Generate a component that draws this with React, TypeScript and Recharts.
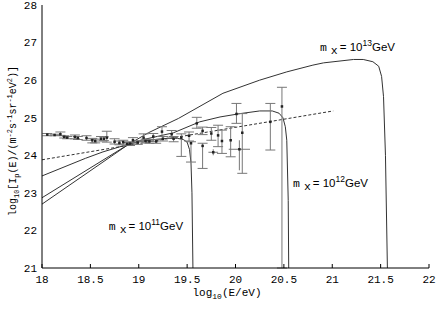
import React from 'react';
import { ComposedChart, Line, Scatter, XAxis, YAxis, ErrorBar, ReferenceDot } from 'recharts';

const MONO = "'Liberation Mono', 'DejaVu Sans Mono', monospace";
const SANS = "'Liberation Sans', Arial, sans-serif";

const xTicks = [18, 18.5, 19, 19.5, 20, 20.5, 21, 21.5, 22];
const yTicks = [21, 22, 23, 24, 25, 26, 27, 28];

// model curves (log10 E, log10 flux)
const curve11: [number, number][] = [
  [18, 23.45], [18.45, 23.92], [18.63, 24.09], [18.9, 24.3], [19.05, 24.38], [19.2, 24.43],
  [19.3, 24.45], [19.4, 24.45], [19.46, 24.42], [19.5, 24.35], [19.525, 24.15], [19.54, 23.8],
  [19.55, 23.0], [19.56, 21],
];
const curve12: [number, number][] = [
  [18, 22.87], [18.9, 24.3], [19.05, 24.42], [19.36, 24.6], [19.63, 24.89], [19.84, 25.02],
  [20.05, 25.11], [20.25, 25.18], [20.38, 25.18], [20.45, 25.12], [20.49, 25.0], [20.515, 24.76],
  [20.53, 24.4], [20.545, 22.8], [20.55, 21],
];
const curve13: [number, number][] = [
  [18, 22.7], [18.9, 24.3], [19.1, 24.6], [19.41, 24.98], [19.87, 25.65], [20.25, 26.0],
  [20.53, 26.22], [20.8, 26.4], [20.91, 26.46], [21.22, 26.55], [21.32, 26.55], [21.42, 26.49],
  [21.48, 26.37], [21.51, 26.1], [21.53, 25.56], [21.55, 24.0], [21.57, 21],
];
const fitLine: [number, number][] = [[18, 23.88], [21.01, 25.18]];

// observed data
const obsX = [18.055, 18.13, 18.19, 18.23, 18.26, 18.34, 18.37, 18.46, 18.52, 18.55, 18.61, 18.64,
  18.67, 18.75, 18.8, 18.84, 18.88, 18.91, 18.94, 18.99, 19.05, 19.07, 19.11, 19.15, 19.18, 19.24,
  19.25, 19.34, 19.36, 19.44, 19.52, 19.54, 19.6, 19.66, 19.66, 19.75, 19.82, 19.86, 19.95, 20.01,
  20.07, 20.36, 20.48];
const obsY = [24.55, 24.54, 24.56, 24.49, 24.47, 24.49, 24.46, 24.46, 24.4, 24.38, 24.44, 24.44,
  24.47, 24.36, 24.33, 24.35, 24.3, 24.31, 24.4, 24.34, 24.47, 24.38, 24.37, 24.5, 24.37, 24.63,
  24.44, 24.56, 24.44, 24.47, 24.52, 24.32, 24.85, 24.65, 24.25, 24.58, 24.53, 24.38, 24.4, 25.1,
  24.6, 24.89, 25.3];
const obsLo = [0.03, 0.02, 0.03, 0.03, 0.03, 0.05, 0.04, 0.06, 0.07, 0.05, 0.06, 0.05,
  0.12, 0.06, 0.05, 0.05, 0.04, 0.05, 0.07, 0.05, 0.1, 0.05, 0.05, 0.13, 0.05, 0.13,
  0.06, 0.1, 0.08, 0.5, 0.14, 0.5, 0.13, 0.1, 0.6, 0.18, 0.3, 0.33, 0.44, 0.25,
  1.08, 0.75, 4.3];
const obsHi = [0.03, 0.02, 0.06, 0.03, 0.03, 0.05, 0.04, 0.06, 0.05, 0.05, 0.06, 0.05,
  0.17, 0.08, 0.05, 0.05, 0.04, 0.05, 0.07, 0.05, 0.1, 0.05, 0.05, 0.08, 0.05, 0.13,
  0.06, 0.1, 0.06, 0.1, 0.1, 0.04, 0.16, 0.1, 0.07, 0.16, 0.27, 0.29, 0.36, 0.28,
  0.51, 0.49, 0.51];

// binned points with energy-bin widths
const binX = [19.77, 20.04];
const binY = [24.08, 24.16];
const binXErr = [0.05, 0.11];
const binLo = [0.08, 0.56];
const binHi = [0.08, 0.24];

// annotations
const annExp = ['11', '12', '13'];
const annX = [18.69, 20.594, 20.873];
const annY = [22.01, 23.16, 26.77];

const toPts = (c: [number, number][]) => c.map(([x, y]) => ({ x, y }));
const obsData = obsX.map((x, i) => ({ x, y: obsY[i], ey: [obsLo[i], obsHi[i]] }));
const binData = binX.map((x, i) => ({ x, y: binY[i], ey: [binLo[i], binHi[i]], ex: binXErr[i] }));

const XTick = (props: any) => {
  const { x, y, payload } = props;
  return (
    <g>
      <line x1={x} y1={y} x2={x} y2={y - 4} stroke="#000" strokeWidth={1} />
      <text x={x} y={y + 15} textAnchor="middle" fontSize={11} fontFamily={MONO} fill="#000">
        {payload.value}
      </text>
    </g>
  );
};

const Pt = (p: any) => <rect x={p.cx - 1.25} y={p.cy - 1.25} width={2.5} height={2.5} fill="#222" />;

const Annot = (p: any) => (
  <text x={p.cx} y={p.cy} fill="#000" fontSize={11.5}>
    <tspan fontFamily={MONO}>m</tspan>
    <tspan fontFamily={MONO} dx={4} dy={3}>x</tspan>
    <tspan fontFamily={SANS} dx={2} dy={-3}>= 10</tspan>
    <tspan fontFamily={SANS} fontSize={8.5} dy={-5}>{p.exp}</tspan>
    <tspan fontFamily={SANS} dy={5}>GeV</tspan>
  </text>
);

export default function App() {
  const lineProps = {
    type: 'linear' as const,
    dataKey: 'y',
    dot: false,
    stroke: '#333',
    strokeWidth: 1,
    isAnimationActive: false,
  };
  return (
    <div style={{ position: 'absolute', left: 0, top: 0, width: 437, height: 311, background: '#fff' }}>
      <ComposedChart width={437} height={311} margin={{ top: 5, right: 8, bottom: 0, left: 0 }}>
        <XAxis
          dataKey="x"
          type="number"
          domain={[18, 22]}
          ticks={xTicks}
          allowDataOverflow
          height={43}
          tickSize={0}
          tickMargin={0}
          tickLine={false}
          tick={<XTick />}
          axisLine={{ stroke: '#000' }}
          interval={0}
        />
        <XAxis xAxisId="top" orientation="top" type="number" domain={[18, 22]} height={0}
          tick={false} tickLine={false} axisLine={{ stroke: '#000' }} />
        <YAxis
          dataKey="y"
          type="number"
          domain={[21, 28]}
          ticks={yTicks}
          allowDataOverflow
          width={42}
          tickSize={0}
          tickMargin={5}
          tickLine={false}
          tick={{ fontSize: 11, fontFamily: MONO, fill: '#000' }}
          axisLine={{ stroke: '#000' }}
          interval={0}
        />
        <YAxis yAxisId="right" orientation="right" type="number" domain={[21, 28]} width={0}
          tick={false} tickLine={false} axisLine={{ stroke: '#000' }} />
        <Line {...lineProps} data={toPts(fitLine)} strokeDasharray="3 2" />
        <Line {...lineProps} data={toPts(curve11)} />
        <Line {...lineProps} data={toPts(curve12)} />
        <Line {...lineProps} data={toPts(curve13)} />
        <Scatter data={obsData} dataKey="y" shape={<Pt />} isAnimationActive={false}>
          <ErrorBar dataKey="ey" direction="y" width={5} stroke="#777" strokeWidth={1} />
        </Scatter>
        <Scatter data={binData} dataKey="y" shape={<Pt />} isAnimationActive={false}>
          <ErrorBar dataKey="ey" direction="y" width={0} stroke="#777" strokeWidth={1} />
          <ErrorBar dataKey="ex" direction="x" width={0} stroke="#777" strokeWidth={1} />
        </Scatter>
        {annExp.map((e, i) => (
          <ReferenceDot key={e} x={annX[i]} y={annY[i]} r={0}
            shape={(p: any) => <Annot cx={p.cx} cy={p.cy} exp={e} />} />
        ))}
      </ComposedChart>
      <svg width={437} height={311} style={{ position: 'absolute', left: 0, top: 0, pointerEvents: 'none' }}>
        <text x={227} y={296} textAnchor="middle" fontSize={11} fontFamily={MONO} fill="#000">
          log<tspan fontSize={8} dy={3}>10</tspan><tspan dy={-3}>(E/eV)</tspan>
        </text>
        <text x={15.5} y={141} transform="rotate(-90 15.5 141)" textAnchor="middle" fontSize={10}
          fontFamily={MONO} fill="#000">
          log<tspan fontSize={7} dy={3}>10</tspan><tspan dy={-3}>[I</tspan><tspan fontSize={7} dy={3}>p</tspan>
          <tspan dy={-3}>(E)/(m</tspan><tspan fontSize={7} dy={-4}>-2</tspan><tspan dy={4}>s</tspan>
          <tspan fontSize={7} dy={-4}>-1</tspan><tspan dy={4}>sr</tspan><tspan fontSize={7} dy={-4}>-1</tspan>
          <tspan dy={4}>eV</tspan><tspan fontSize={7} dy={-4}>2</tspan><tspan dy={4}>)]</tspan>
        </text>
      </svg>
    </div>
  );
}
